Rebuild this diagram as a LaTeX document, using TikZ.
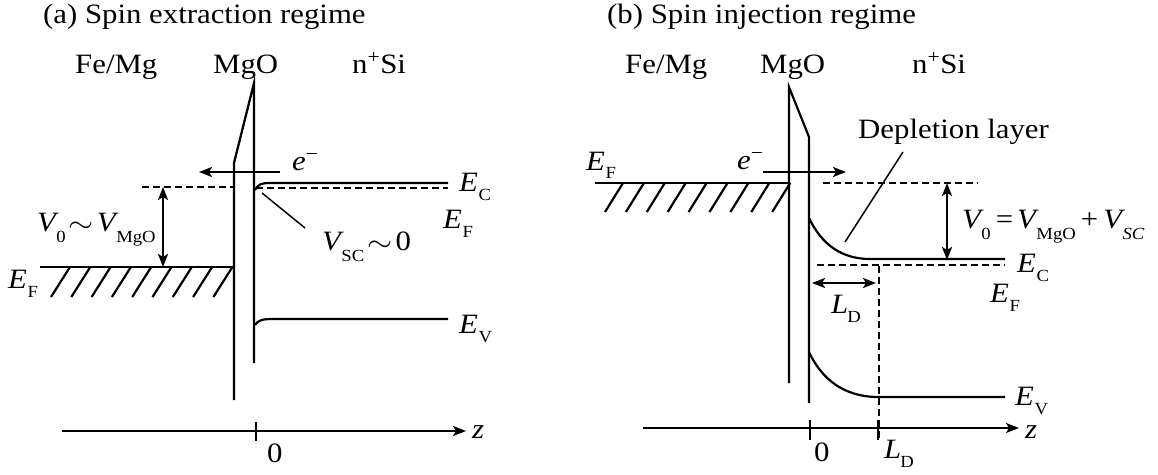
\documentclass[tikz,border=0pt]{standalone}
\usepackage{fontspec}
\usepackage{graphicx}
\setmainfont{Liberation Serif}[FakeStretch=1.1]
\usetikzlibrary{arrows.meta}
\newcommand{\symsub}[4][-9pt]{\textit{#3}\kern#2\raisebox{#1}{\fontsize{17}{17}\selectfont #4}}
\newcommand{\Vs}[1]{\symsub[-11pt]{-2.5pt}{V}{#1}}
\newcommand{\Es}[2]{\symsub{0.5pt}{#1}{#2}}
\newcommand{\simsp}{\kern3pt\raisebox{-1pt}{\scalebox{1.3}[1.15]{$\sim$}}\kern3pt}
\begin{document}
\begin{tikzpicture}[x=1pt,y=-1pt,
  lbl/.style={inner sep=0pt,anchor=base west,font=\fontsize{28}{30}\selectfont},
  band/.style={line width=2.2pt},
  thinl/.style={line width=1.5pt},
  dsh/.style={line width=1.8pt,dash pattern=on 7pt off 4pt},
  arr/.style={line width=2.2pt,-{Stealth[length=13pt,width=10pt,inset=3pt]}},
  darr/.style={line width=2.2pt,{Stealth[length=13pt,width=10pt,inset=3pt]}-{Stealth[length=13pt,width=10pt,inset=3pt]}},
  axarr/.style={line width=1.5pt,-{Stealth[length=13pt,width=10pt,inset=3pt]}}]
\useasboundingbox (0,0) rectangle (1158,474);

% ================= panel (a) =================
\node[lbl] (ta) at (43,23) {(a) Spin extraction regime};
\node[lbl] (fea) at (75,73) {Fe/Mg};
\node[lbl] (mgoa) at (213,73) {MgO};
\node[lbl] (sia) at (352,73) {n\textsuperscript{+}Si};

% barrier
\draw[band] (254,363) -- (254,83) -- (234,163) -- (234,400);
% metal Fermi level and hatching
\coordinate (efaL) at (40,267);
\coordinate (efaR) at (234,267);
\draw[band] (efaL) -- (efaR);
\foreach \i in {0,...,8}{
  \draw[band] ({51+20.3*\i},297) -- ({70+20.3*\i},267);
}
% dashed level on metal side
\draw[dsh] (142,187) -- (234,187);
% conduction band and Fermi level in Si
\draw[band] (255,190) .. controls (258,184) and (262,183) .. (270,183) -- (448,183);
\draw[dsh] (256,188) -- (448,188);
% valence band
\draw[band] (255,325) .. controls (258,320) and (263,319) .. (273,319) -- (448,319);
% electron arrow
\coordinate (ea1) at (280,172);
\coordinate (ea2) at (199,172);
\draw[arr] (ea1) -- (ea2);
\node[lbl] (ela) at (292,170) {\textit{e}\textsuperscript{\char"2212}};
% V0 arrow
\coordinate (v0a1) at (163,187);
\coordinate (v0a2) at (163,267);
\draw[darr] (v0a1) -- (v0a2);
\node[lbl] (v0la) at (37,231) {\Vs{0}\simsp\Vs{MgO}};
\node[lbl] (efla) at (8,288) {\Es{E}{F}};
\node[lbl] (ecla) at (459,191) {\Es{E}{C}};
\node[lbl] (efra) at (443,228) {\Es{E}{F}};
\node[lbl] (evla) at (459,333) {\Es{E}{V}};
% V_SC leader
\coordinate (lda1) at (262,193);
\coordinate (lda2) at (305,228);
\draw[thinl] (lda1) -- (lda2);
\node[lbl] (vsca) at (322,250) {\Vs{SC}\simsp 0};
% axis
\coordinate (axa1) at (62,431);
\coordinate (axa2) at (466,431);
\draw[axarr] (axa1) -- (axa2);
\draw[thinl] (256,422) -- (256,441);
\node[lbl] (za) at (472,438) {\textit{z}};
\node[lbl] (zeroa) at (267,462) {0};

% ================= panel (b) =================
\node[lbl] (tb) at (607,23) {(b) Spin injection regime};
\node[lbl] (feb) at (625,73) {Fe/Mg};
\node[lbl] (mgob) at (760,73) {MgO};
\node[lbl] (sib) at (912,73) {n\textsuperscript{+}Si};

% barrier
\draw[band] (789,383) -- (789,87) -- (809,137) -- (809,403);
% metal Fermi level and hatching
\draw[band] (595,183) -- (789,183);
\foreach \i in {0,...,8}{
  \draw[band] ({605+20.9*\i},212) -- ({623+20.9*\i},183);
}
\node[lbl] (eflb) at (586,170) {\symsub[-8pt]{0.5pt}{E}{F}};
% electron arrow
\coordinate (eb1) at (763,172);
\coordinate (eb2) at (846,172);
\draw[arr] (eb1) -- (eb2);
\node[lbl] (elb) at (737,169) {\textit{e}\textsuperscript{\char"2212}};
% dashed top level
\draw[dsh] (823,183) -- (978,183);
% conduction band
\draw[band] (809,218) .. controls (822,245) and (842,259) .. (870,259) -- (1005,259);
% Fermi level in Si
\draw[dsh] (817,265) -- (1005,265);
% valence band
\draw[band] (809,352) .. controls (822,380) and (845,397) .. (878,397) -- (1005,397);
% vertical dashed at L_D
\draw[dsh] (879,266) -- (879,440);
% depletion layer label and leader
\node[lbl] (dep) at (858,138) {Depletion layer};
\coordinate (ldb1) at (903,152);
\coordinate (ldb2) at (845,242);
\draw[thinl] (ldb1) -- (ldb2);
% V0 arrow
\coordinate (v0b1) at (947,183);
\coordinate (v0b2) at (947,260);
\draw[darr] (v0b1) -- (v0b2);
\node[lbl] (v0lb) at (962,228) {\Vs{0}\kern5pt=\kern4pt\Vs{MgO}\kern5pt+\kern5pt\Vs{\textit{SC}}};
\node[lbl] (eclb) at (1017,272) {\Es{E}{C}};
\node[lbl] (efrb) at (990,302) {\Es{E}{F}};
\node[lbl] (evlb) at (1015,405) {\Es{E}{V}};
% L_D arrow
\coordinate (lb1) at (812,283);
\coordinate (lb2) at (876,283);
\draw[darr] (lb1) -- (lb2);
\node[lbl] (ldlb) at (831,313) {\symsub{-1pt}{L}{D}};
% axis
\coordinate (axb1) at (643,428);
\coordinate (axb2) at (1019,428);
\draw[axarr] (axb1) -- (axb2);
\draw[thinl] (810,420) -- (810,440);
\draw[thinl] (878,420) -- (878,440);
\node[lbl] (zb) at (1025,438) {\textit{z}};
\node[lbl] (zerob) at (814,461) {0};
\node[lbl] (ldax) at (884,458) {\symsub{-1pt}{L}{D}};
\end{tikzpicture}
\end{document}
